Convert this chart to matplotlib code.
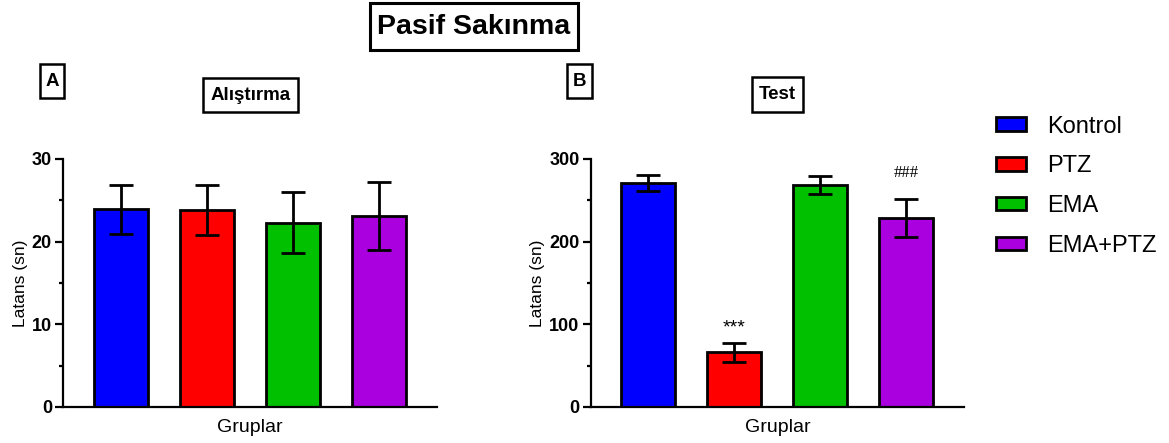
import matplotlib.pyplot as plt
from matplotlib.patches import Patch, Rectangle
from matplotlib.ticker import MultipleLocator

plt.rcParams['font.family'] = ['Liberation Sans', 'DejaVu Sans']

groups = ['Kontrol', 'PTZ', 'EMA', 'EMA+PTZ']
colors = ['#0000ff', '#ff0000', '#00c000', '#aa00e0']

train_mean = [23.9, 23.8, 22.3, 23.1]
train_err = [3.0, 3.0, 3.7, 4.1]
test_mean = [271, 66, 268, 229]
test_err = [10, 11, 11, 23]
test_marks = ['', '***', '', '###']

W, H = 1169, 443
fig = plt.figure(figsize=(W / 100, H / 100), dpi=100)
ax1 = fig.add_axes([0.0539, 0.0813, 0.320, 0.560])
ax2 = fig.add_axes([0.5053, 0.0813, 0.3193, 0.560])

x = range(len(groups))


def draw(ax, means, errs, ymax, major, minor):
    ax.bar(x, means, width=0.63, color=colors, edgecolor='black', linewidth=2, zorder=2)
    ax.errorbar(x, means, yerr=errs, fmt='none', ecolor='black', elinewidth=2,
                capsize=8.6, capthick=2, zorder=3)
    ax.set_xlim(-0.67, 3.67)
    ax.set_ylim(0, ymax)
    ax.yaxis.set_major_locator(MultipleLocator(major))
    ax.yaxis.set_minor_locator(MultipleLocator(minor))
    ax.set_xticks([])
    for s in ['top', 'right']:
        ax.spines[s].set_visible(False)
    for s in ['left', 'bottom']:
        ax.spines[s].set_linewidth(1.6)
    ax.tick_params(axis='y', which='major', length=6, width=1.6, labelsize=13, pad=2)
    ax.tick_params(axis='y', which='minor', length=3, width=1.6)
    for t in ax.get_yticklabels():
        t.set_fontweight('bold')
    ax.set_ylabel('Latans (sn)', fontsize=12.5, labelpad=3)
    ax.set_xlabel('Gruplar', fontsize=14, labelpad=8.5)


draw(ax1, train_mean, train_err, 30, 10, 5)
draw(ax2, test_mean, test_err, 300, 100, 50)

for i, m in enumerate(test_marks):
    if m == '***':
        ax2.text(i, test_mean[i] + test_err[i] + 8, m, ha='center', va='bottom', fontsize=14)
    elif m:
        ax2.text(i, test_mean[i] + test_err[i] + 21, m, ha='center', va='bottom',
                 fontsize=12, family='Liberation Serif')


def boxed(text, x0, y0, x1, y1, size, lw=1.8):
    # box given in pixel coords from top-left
    fig.add_artist(Rectangle((x0 / W, 1 - y1 / H), (x1 - x0) / W, (y1 - y0) / H,
                             transform=fig.transFigure, fill=False, ec='black', lw=lw))
    fig.text((x0 + x1) / 2 / W, 1 - (y0 + y1) / 2 / H, text, ha='center', va='center',
             fontsize=size, fontweight='bold')


boxed('Pasif Sakınma', 370, 3, 578, 50, 20.5, lw=2.2)
boxed('A', 40, 64, 64, 98, 13.5)
boxed('Alıştırma', 203, 78, 298, 112, 13.5)
boxed('B', 567, 64, 592, 98, 13.5)
boxed('Test', 752, 77, 803, 112, 13.5)

handles = [Patch(facecolor=c, edgecolor='black', linewidth=2) for c in colors]
fig.legend(handles, groups, loc='upper left', bbox_to_anchor=(0.834, 0.787), frameon=False,
           fontsize=17, handlelength=1.27, handleheight=0.51, labelspacing=0.75,
           handletextpad=0.89)

fig.savefig('out.png', dpi=100)
